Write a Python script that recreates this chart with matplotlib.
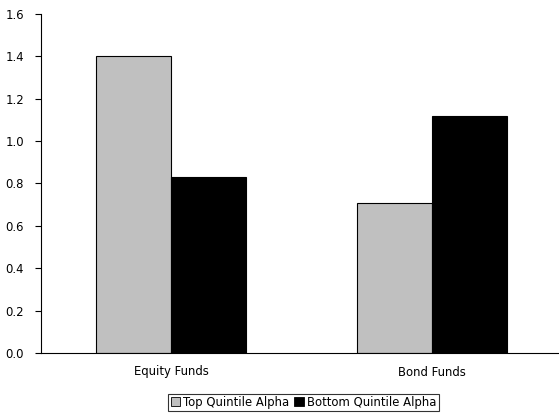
import matplotlib
matplotlib.use("Agg")
import matplotlib.pyplot as plt
import numpy as np
from matplotlib.patches import Patch

categories = ["Equity Funds", "Bond Funds"]
top_quintile = [1.40, 0.71]
bottom_quintile = [0.83, 1.12]
y_ticks = [0.0, 0.2, 0.4, 0.6, 0.8, 1.0, 1.2, 1.4, 1.6]

plt.rcParams["font.family"] = ["DejaVu Sans"]
FS = 8.4

W, H = 559, 417
fig = plt.figure(figsize=(W / 100, H / 100), dpi=100)
left, right, bottom, top = 40.5, 562.5, 353, 14
ax = fig.add_axes([left / W, 1 - bottom / H, (right - left) / W, (bottom - top) / H])

x = np.arange(len(categories))
bw = 75 / 261
ax.bar(x - bw / 2, top_quintile, bw, color="#c0c0c0", edgecolor="black", linewidth=0.8,
       label="Top Quintile Alpha")
ax.bar(x + bw / 2, bottom_quintile, bw, color="black", edgecolor="black", linewidth=0.8,
       label="Bottom Quintile Alpha")

ax.set_xlim(-0.5, 1.5)
ax.set_ylim(0, 1.6)
ax.set_yticks(y_ticks)
ax.set_yticklabels([f"{v:.1f}" for v in y_ticks], fontsize=FS)
ax.set_xticks(x)
ax.set_xticklabels(categories, fontsize=FS)
ax.tick_params(axis="x", length=0, pad=9)
ax.tick_params(axis="y", length=4, width=0.8, direction="out", pad=8)

for s in ["top", "right"]:
    ax.spines[s].set_visible(False)
for s in ["left", "bottom"]:
    ax.spines[s].set_linewidth(0.8)

handles = [Patch(facecolor="#c0c0c0", edgecolor="black", linewidth=0.6),
           Patch(facecolor="black", edgecolor="black", linewidth=0.6)]
leg = fig.legend(handles, ["Top Quintile Alpha", "Bottom Quintile Alpha"],
                 loc="center", bbox_to_anchor=(303.5 / W, 1 - 402.5 / H), ncol=2,
                 fontsize=FS, frameon=True, fancybox=False, edgecolor="black",
                 handlelength=0.8, handleheight=0.8, handletextpad=0.3,
                 columnspacing=0.4, borderpad=0.2, borderaxespad=0)
leg.get_frame().set_linewidth(0.8)

fig.savefig("out.png", dpi=100)
